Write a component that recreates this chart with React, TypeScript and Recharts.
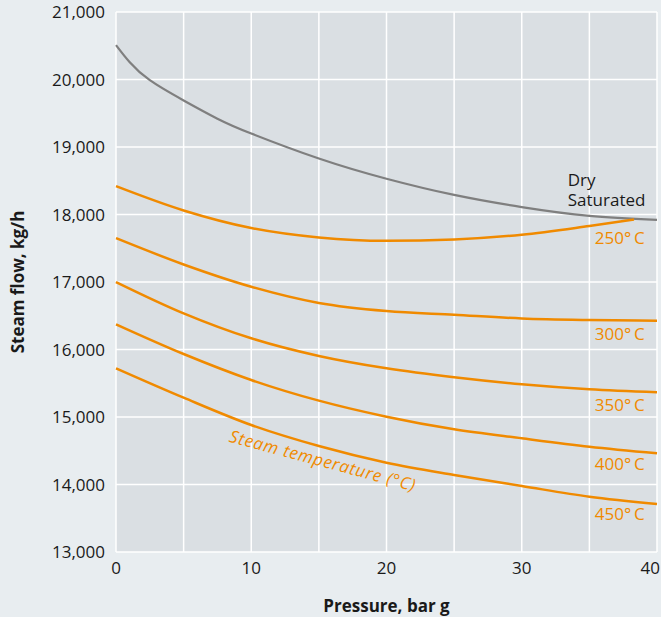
import {
  LineChart,
  Line,
  XAxis,
  YAxis,
  CartesianGrid,
  ReferenceDot,
} from "recharts";

const pressure = [0, 5, 10, 15, 20, 25, 30, 35, 40];
const pressureDry = [0, 1, 2.5, 5, 7.5, 10, 15, 20, 25, 30, 35, 40];
const pressure250 = [0, 5, 10, 15, 20, 25, 30, 35, 38.3];

const drySaturated = [20510, 20260, 19990, 19690, 19420, 19200, 18830, 18530, 18290, 18110, 17980, 17920];
const temp250 = [18420, 18060, 17800, 17660, 17610, 17630, 17700, 17830, 17925];
const temp300 = [17650, 17260, 16930, 16690, 16570, 16515, 16460, 16437, 16427];
const temp350 = [17000, 16536, 16166, 15904, 15721, 15588, 15484, 15410, 15366];
const temp400 = [16373, 15933, 15548, 15242, 15004, 14817, 14684, 14560, 14462];
const temp450 = [15721, 15286, 14881, 14570, 14323, 14141, 13978, 13819, 13711];

const xTicks = [0, 5, 10, 15, 20, 25, 30, 35, 40];
const yTicks = [13000, 14000, 15000, 16000, 17000, 18000, 19000, 20000, 21000];

// annotation anchors in data units: [pressure, flow, text]
const tempLabels: [number, number, string][] = [
  [39.1, 17652, "250°\u2009C"],
  [39.1, 16240, "300°\u2009C"],
  [39.1, 15178, "350°\u2009C"],
  [39.1, 14314, "400°\u2009C"],
  [39.1, 13563, "450°\u2009C"],
];

const ORANGE = "#f08a00";
const GREY = "#7f7f7f";
const INK = "#1a1a1a";
const FONT = "'Open Sans', sans-serif";

const toPoints = (xs: number[], ys: number[]) => xs.map((p, i) => ({ p, v: ys[i] }));

const fmt = (v: number) => v.toLocaleString("en-US");

const TextAt = (props: any) => {
  const { cx, cy, text, color, anchor, italic, angle, spacing } = props;
  return (
    <text
      x={cx}
      y={cy}
      fill={color}
      fontSize={17}
      fontFamily={FONT}
      fontStyle={italic ? "italic" : "normal"}
      letterSpacing={spacing}
      textAnchor={anchor}
      dominantBaseline="central"
      transform={angle ? `rotate(${angle} ${cx} ${cy})` : undefined}
    >
      {text}
    </text>
  );
};

const XTick = (props: any) => {
  const { x, y, payload } = props;
  const v = payload.value;
  if (v % 10 !== 0) return null;
  const last = v === 40;
  return (
    <text
      x={last ? x + 3 : x}
      y={y}
      dy={14}
      textAnchor={last ? "end" : "middle"}
      fontSize={17}
      fontFamily={FONT}
      fill={INK}
    >
      {v}
    </text>
  );
};

const YLabel = (props: any) => {
  const { viewBox } = props;
  const x = viewBox.x + 17;
  const y = viewBox.y + viewBox.height / 2;
  return (
    <text
      x={x}
      y={y}
      transform={`rotate(-90 ${x} ${y})`}
      textAnchor="middle"
      dominantBaseline="central"
      fontSize={17}
      fontWeight={700}
      fontFamily={FONT}
      fill={INK}
    >
      Steam flow, kg/h
    </text>
  );
};

const XLabel = (props: any) => {
  const { viewBox } = props;
  return (
    <text
      x={viewBox.x + viewBox.width / 2}
      y={605}
      textAnchor="middle"
      dominantBaseline="central"
      fontSize={17}
      fontWeight={700}
      fontFamily={FONT}
      fill={INK}
    >
      Pressure, bar g
    </text>
  );
};

export default function App() {
  const series = [
    { key: "dry", xs: pressureDry, ys: drySaturated, color: GREY, width: 2.2, curve: "natural" },
    { key: "t250", xs: pressure250, ys: temp250, color: ORANGE, width: 2.5, curve: "monotone" },
    { key: "t300", xs: pressure, ys: temp300, color: ORANGE, width: 2.5, curve: "monotone" },
    { key: "t350", xs: pressure, ys: temp350, color: ORANGE, width: 2.5, curve: "monotone" },
    { key: "t400", xs: pressure, ys: temp400, color: ORANGE, width: 2.5, curve: "monotone" },
    { key: "t450", xs: pressure, ys: temp450, color: ORANGE, width: 2.5, curve: "monotone" },
  ];

  return (
    <div
      style={{
        position: "absolute",
        left: 0,
        top: 0,
        width: 661,
        height: 617,
        background: "#e8edf0",
      }}
    >
      <LineChart width={661} height={617} margin={{ top: 12, right: 4, left: 0, bottom: 0 }}>
        <CartesianGrid stroke="#ffffff" strokeWidth={1.5} fill="#dadfe3" />
        <XAxis
          type="number"
          dataKey="p"
          domain={[0, 40]}
          ticks={xTicks}
          interval={0}
          axisLine={false}
          tickLine={false}
          height={65}
          tick={<XTick />}
          label={<XLabel />}
        />
        <YAxis
          type="number"
          domain={[13000, 21000]}
          ticks={yTicks}
          interval={0}
          tickFormatter={fmt}
          axisLine={false}
          tickLine={false}
          tickMargin={5}
          width={116}
          tick={{ fontSize: 17, fill: INK, fontFamily: FONT }}
          label={<YLabel />}
        />
        {series.map((s) => (
          <Line
            key={s.key}
            data={toPoints(s.xs, s.ys)}
            dataKey="v"
            type={s.curve as any}
            stroke={s.color}
            strokeWidth={s.width}
            dot={false}
            activeDot={false}
            isAnimationActive={false}
          />
        ))}
        <ReferenceDot
          x={33.4}
          y={18525}
          r={0}
          shape={(p: any) => <TextAt {...p} text="Dry" color={INK} anchor="start" />}
        />
        <ReferenceDot
          x={33.4}
          y={18215}
          r={0}
          shape={(p: any) => <TextAt {...p} text="Saturated" color={INK} anchor="start" />}
        />
        {tempLabels.map(([x, y, t]) => (
          <ReferenceDot
            key={t}
            x={x}
            y={y}
            r={0}
            shape={(p: any) => <TextAt {...p} text={t} color={ORANGE} anchor="end" />}
          />
        ))}
        <ReferenceDot
          x={15.3}
          y={14360}
          r={0}
          shape={(p: any) => (
            <TextAt
              {...p}
              text="Steam temperature (°C)"
              color={ORANGE}
              anchor="middle"
              italic
              angle={15}
              spacing={0.7}
            />
          )}
        />
      </LineChart>
    </div>
  );
}
